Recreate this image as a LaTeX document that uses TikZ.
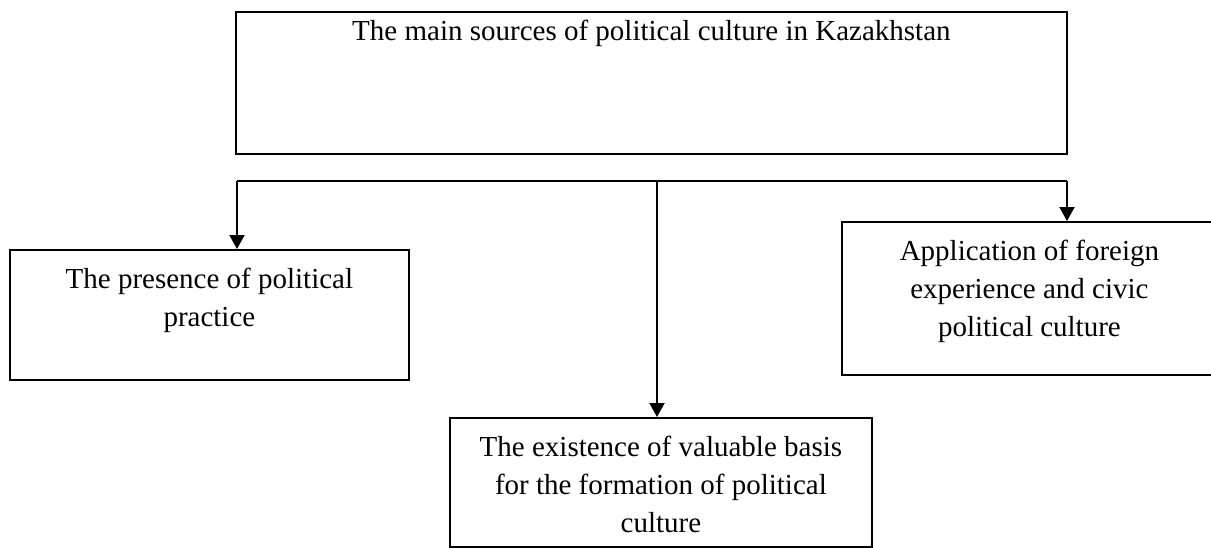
\documentclass[tikz,border=0pt]{standalone}
\usepackage{fontspec}
\setmainfont{Liberation Serif}
\usetikzlibrary{
  arrows.meta,
  calc
}
\tikzset{
  source box/.style={draw,line width=1.8pt,anchor=north west,inner sep=0pt},
  source text/.style={anchor=north,align=center,inner sep=0pt,font=\fontsize{29}{38}\selectfont},
  branch/.style={line width=2pt},
  branch arrow/.style={branch,-{Triangle[width=15pt,length=14pt]}},
}

\begin{document}
\begin{tikzpicture}[x=1pt,y=-1pt]
\useasboundingbox (0,0) rectangle (1211,547);
\node[source box,minimum width=831pt,minimum height=142pt] (main) at (235,11) {};
\node[source box,minimum width=399pt,minimum height=130pt] (practice) at (9,249) {};
\node[source box,minimum width=422pt,minimum height=129pt] (values) at (449,417) {};
\node[source box,minimum width=375pt,minimum height=153pt] (foreign) at (841,221) {};

\node[source text] (main text) at ([yshift=-9pt]main.north) {The main sources of political culture in Kazakhstan};
\node[source text] (practice text) at ([yshift=-19pt]practice.north) {The presence of political\\practice};
\node[source text] (values text) at ([yshift=-19pt]values.north) {The existence of valuable basis\\for the formation of political\\culture};
\node[source text] (foreign text) at ([yshift=-19pt]foreign.north) {Application of foreign\\experience and civic\\political culture};

\coordinate (bus west) at (237,181);
\coordinate (bus) at (657,181);
\coordinate (bus east) at (1067,181);
\draw[branch] (bus west) -- (bus east);
\foreach \from/\to in {bus west/practice, bus/values, bus east/foreign}
{
  \draw[branch arrow] (\from) -- (\from |- \to.north);
}
\end{tikzpicture}
\end{document}
